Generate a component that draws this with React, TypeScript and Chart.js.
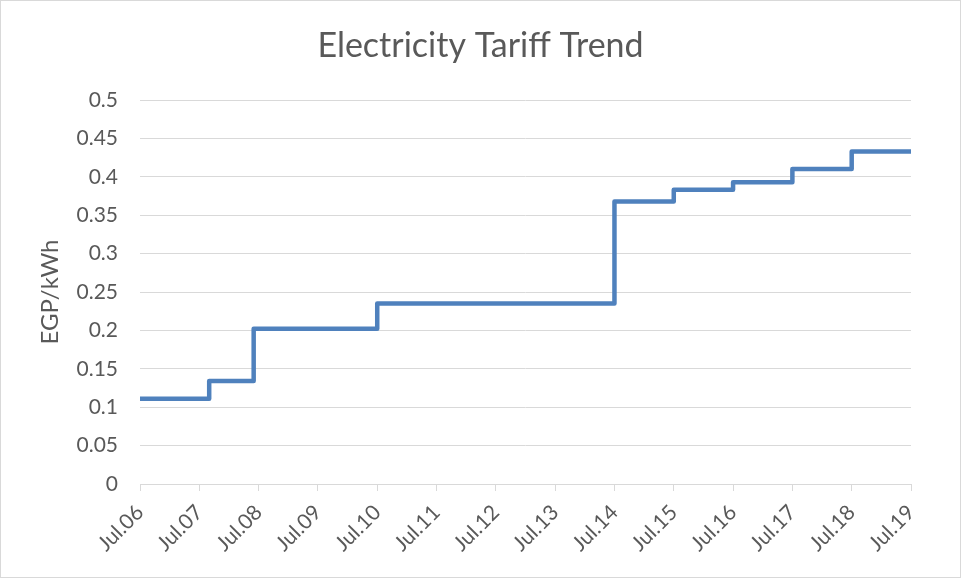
import React, { useEffect, useRef } from "react";
import { Chart, registerables } from "chart.js";

Chart.register(...registerables);

// Months since Jul 2006 at which each tariff level starts
const changeMonths = [0, 14, 23, 48, 96, 108, 120, 132, 144, 156];
// Tariff level (EGP/kWh) starting at each change month
const tariffs = [0.111, 0.134, 0.202, 0.235, 0.368, 0.383, 0.393, 0.41, 0.433, 0.433];
// X-axis tick labels, one per year
const tickLabels = [
  "Jul.06", "Jul.07", "Jul.08", "Jul.09", "Jul.10", "Jul.11", "Jul.12",
  "Jul.13", "Jul.14", "Jul.15", "Jul.16", "Jul.17", "Jul.18", "Jul.19",
];
const title = "Electricity Tariff Trend";
const yTitle = "EGP/kWh";

const FONT = "Lato, 'Open Sans', sans-serif";
const TEXT = "#595959";
const GRID = "#d9d9d9";

export default function App() {
  const ref = useRef<HTMLCanvasElement | null>(null);

  useEffect(() => {
    if (!ref.current) return;
    const chart = new Chart(ref.current, {
      type: "line",
      data: {
        datasets: [
          {
            data: changeMonths.map((m, i) => ({ x: m, y: tariffs[i] })),
            borderColor: "#4F81BD",
            backgroundColor: "#4F81BD",
            borderWidth: 4.5,
            stepped: true,
            pointRadius: 0,
            borderJoinStyle: "round",
            borderCapStyle: "butt",
            fill: false,
          },
        ],
      },
      options: {
        animation: false,
        responsive: false,
        maintainAspectRatio: false,
        layout: { padding: { left: 0, right: 0, top: 0, bottom: 0 } },
        plugins: {
          legend: { display: false },
          tooltip: { enabled: false },
          title: {
            display: true,
            text: title,
            color: TEXT,
            font: { family: FONT, size: 34, weight: "normal" },
            padding: { top: 26, bottom: 33.2 },
          },
        },
        scales: {
          x: {
            type: "linear",
            min: 0,
            max: 156,
            afterBuildTicks: (s: any) => {
              s.ticks = tickLabels.map((_, i) => ({ value: i * 12 }));
            },
            afterFit: (s: any) => {
              s.height = 94;
            },
            ticks: {
              autoSkip: false,
              maxRotation: 45,
              minRotation: 45,
              padding: 9,
              color: TEXT,
              font: { family: FONT, size: 21 },
              callback: (v: any) => tickLabels[Math.round(Number(v) / 12)] ?? "",
            },
            grid: {
              drawOnChartArea: false,
              drawTicks: true,
              tickLength: 7,
              color: GRID,
              lineWidth: 1,
            },
            border: { display: true, color: GRID, width: 1 },
          },
          y: {
            min: 0,
            max: 0.5,
            afterFit: (s: any) => {
              s.width = 140;
            },
            ticks: {
              stepSize: 0.05,
              padding: 22,
              color: TEXT,
              font: { family: FONT, size: 21 },
              callback: (v: any) => String(Number(Number(v).toFixed(2))),
            },
            grid: { color: GRID, lineWidth: 1, drawTicks: false },
            border: { display: false },
            title: {
              display: true,
              text: yTitle,
              color: TEXT,
              font: { family: FONT, size: 24 },
              padding: { top: 36, bottom: 0 },
            },
          },
          // invisible right-hand spacer so the title stays centred on the canvas
          yRight: {
            position: "right",
            min: 0,
            max: 0.5,
            afterFit: (s: any) => {
              s.width = 50;
            },
            ticks: { display: false },
            grid: { display: false, drawTicks: false },
            border: { display: false },
          },
        },
      },
    });
    return () => chart.destroy();
  }, []);

  return (
    <div style={{ position: "fixed", left: 0, top: 0, width: 961, height: 578, background: "#fff" }}>
      <canvas ref={ref} width={961} height={578} style={{ width: 961, height: 578, display: "block" }} />
      <div
        style={{
          position: "absolute",
          left: 0,
          top: 0,
          width: 961,
          height: 578,
          boxSizing: "border-box",
          border: `1px solid ${GRID}`,
          pointerEvents: "none",
        }}
      />
    </div>
  );
}
